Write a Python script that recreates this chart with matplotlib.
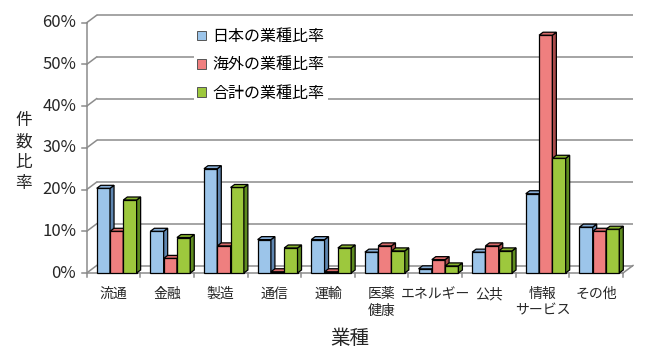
import matplotlib
matplotlib.use('Agg')
import matplotlib.pyplot as plt
from matplotlib.patches import Polygon, Patch

plt.rcParams['font.family'] = ['Noto Sans CJK JP', 'DejaVu Sans']

categories = ['流通', '金融', '製造', '通信', '運輸', '医薬\n健康', 'エネルギー', '公共', '情報\nサービス', 'その他']
series_names = ['日本の業種比率', '海外の業種比率', '合計の業種比率']
japan = [20.3, 10, 25, 8, 8, 5, 1, 5, 19, 11]
overseas = [10, 3.5, 6.5, 0.3, 0.3, 6.5, 3.2, 6.5, 57, 10]
total = [17.5, 8.5, 20.5, 6, 6, 5.3, 1.7, 5.3, 27.5, 10.5]
y_ticks = [0, 10, 20, 30, 40, 50, 60]
y_tick_labels = ['0%', '10%', '20%', '30%', '40%', '50%', '60%']
x_label = '業種'
y_label = '件数比率'

front_colors = ['#9cc5ea', '#ef7f7f', '#9dc83d']
top_colors = ['#86add6', '#d86a6a', '#86b22c']
side_colors = ['#5f86b0', '#a84a4a', '#5e8c1f']
grid_color = '#8c8c8c'

W, H = 648, 355
fig = plt.figure(figsize=(W / 100, H / 100), dpi=100)
L, R, B, T = 86.7, 623.0, 273.0, 22.7
ax = fig.add_axes([L / W, 1 - B / H, (R - L) / W, (B - T) / H])
ax.set_xlim(0, 10)
ax.set_ylim(0, 60)
ax.axis('off')

px_x = (R - L) / 10.0
px_y = (B - T) / 60.0


def dpx(dx, dy):
    return dx / px_x, dy / px_y


WX, WY = dpx(10, 7.5)
BX, BY = dpx(4, 3)
TICK_X, _ = dpx(4.5, 0)
_, TICK_Y = dpx(0, 4)

# back wall gridlines and left diagonals
for v, lab in zip(y_ticks, y_tick_labels):
    ax.plot([WX, 10 + WX], [v + WY, v + WY], color=grid_color, lw=1.1,
            clip_on=False, zorder=1, solid_capstyle='butt')
    ax.plot([0, WX], [v, v + WY], color=grid_color, lw=1.1, clip_on=False, zorder=1)
    ax.plot([-TICK_X, 0], [v, v], color=grid_color, lw=1.1, clip_on=False, zorder=1)
    ax.text(-dpx(10.5, 0)[0], v, lab, ha='right', va='center', fontsize=12,
            color='#262626')

# front axis and floor
ax.plot([0, 0], [0, 60], color=grid_color, lw=1.1, clip_on=False, zorder=1)
ax.plot([0, 10], [0, 0], color=grid_color, lw=1.1, clip_on=False, zorder=1)
ax.plot([10, 10 + WX], [0, WY], color=grid_color, lw=1.1, clip_on=False, zorder=1)
for i in range(11):
    ax.plot([i, i], [0, -TICK_Y], color=grid_color, lw=1.1, clip_on=False, zorder=1)

# bars
bw = 0.248
start = 0.187
all_series = [japan, overseas, total]
for i in range(len(categories)):
    for j, vals in enumerate(all_series):
        v = vals[i]
        x0 = i + start + j * bw
        x1 = x0 + bw
        z = 3 + i * 3 + j
        ax.bar([x0], [v], width=bw, align='edge', color=front_colors[j],
               edgecolor='black', linewidth=0.9, zorder=z, clip_on=False)
        top = Polygon([[x0, v], [x1, v], [x1 + BX, v + BY], [x0 + BX, v + BY]],
                      closed=True, facecolor=top_colors[j], edgecolor='black',
                      linewidth=0.9, zorder=z, clip_on=False)
        side = Polygon([[x1, 0], [x1 + BX, BY], [x1 + BX, v + BY], [x1, v]],
                       closed=True, facecolor=side_colors[j], edgecolor='black',
                       linewidth=0.9, zorder=z, clip_on=False)
        ax.add_patch(side)
        ax.add_patch(top)

# category labels
for i, c in enumerate(categories):
    ax.text(i + 0.5, -dpx(0, 14)[1], c, ha='center', va='top', fontsize=10,
            color='#262626', linespacing=1.25)

fig.text(350 / W, 1 - 339 / H, x_label, ha='center', va='center', fontsize=14,
         color='#262626')
fig.text(24 / W, 1 - 152 / H, '\n'.join(y_label), ha='center', va='center',
         fontsize=12, color='#262626', linespacing=1.3)

handles = [Patch(facecolor=front_colors[j], edgecolor='#555555', linewidth=0.7)
           for j in range(3)]
fig.legend(handles, series_names, loc='upper left',
           bbox_to_anchor=(194 / W, 1 - 25 / H), frameon=True, facecolor='white',
           edgecolor='none', framealpha=1, fontsize=11.5, handlelength=0.55,
           handleheight=0.55, handletextpad=0.4, labelspacing=0.7,
           borderpad=0.2, borderaxespad=0, fancybox=False)

fig.savefig('out.png', dpi=100)
